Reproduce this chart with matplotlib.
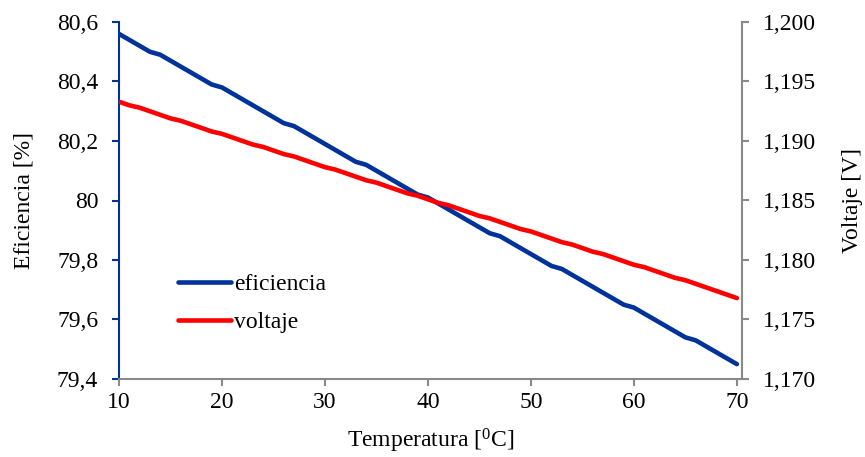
import matplotlib.pyplot as plt
from matplotlib.ticker import FuncFormatter, MultipleLocator

plt.rcParams["font.family"] = ["Liberation Serif", "DejaVu Serif"]
plt.rcParams["mathtext.fontset"] = "custom"
plt.rcParams["mathtext.rm"] = "Liberation Serif"

temperatura = list(range(10, 71))

eficiencia = [
    80.56, 80.54, 80.52, 80.50, 80.49, 80.47, 80.45, 80.43, 80.41, 80.39,
    80.38, 80.36, 80.34, 80.32, 80.30, 80.28, 80.26, 80.25, 80.23, 80.21,
    80.19, 80.17, 80.15, 80.13, 80.12, 80.10, 80.08, 80.06, 80.04, 80.02,
    80.01, 79.99, 79.97, 79.95, 79.93, 79.91, 79.89, 79.88, 79.86, 79.84,
    79.82, 79.80, 79.78, 79.77, 79.75, 79.73, 79.71, 79.69, 79.67, 79.65,
    79.64, 79.62, 79.60, 79.58, 79.56, 79.54, 79.53, 79.51, 79.49, 79.47,
    79.45,
]

voltaje = [
    1.1933, 1.1930, 1.1928, 1.1925, 1.1922, 1.1919, 1.1917, 1.1914, 1.1911, 1.1908,
    1.1906, 1.1903, 1.1900, 1.1897, 1.1895, 1.1892, 1.1889, 1.1887, 1.1884, 1.1881,
    1.1878, 1.1876, 1.1873, 1.1870, 1.1867, 1.1865, 1.1862, 1.1859, 1.1856, 1.1854,
    1.1851, 1.1848, 1.1846, 1.1843, 1.1840, 1.1837, 1.1835, 1.1832, 1.1829, 1.1826,
    1.1824, 1.1821, 1.1818, 1.1815, 1.1813, 1.1810, 1.1807, 1.1805, 1.1802, 1.1799,
    1.1796, 1.1794, 1.1791, 1.1788, 1.1785, 1.1783, 1.1780, 1.1777, 1.1774, 1.1771,
    1.1768,
]

blue = "#003399"
red = "#ff0000"
grey = "#898989"
fs = 17

fig = plt.figure(figsize=(8.65, 4.57), dpi=100)
ax = fig.add_axes([119 / 865, 1 - 379 / 457, 623 / 865, 357 / 457])
ax2 = ax.twinx()

l1, = ax.plot(temperatura, eficiencia, color=blue, lw=3.3, solid_capstyle="round",
              label="eficiencia")
l2, = ax2.plot(temperatura, voltaje, color=red, lw=3.3, solid_capstyle="round",
               label="voltaje")

ax.set_xlim(10, 70.5)
ax.set_ylim(79.4, 80.6)
ax2.set_ylim(1.170, 1.200)
ax.xaxis.set_major_locator(MultipleLocator(10))
ax.yaxis.set_major_locator(MultipleLocator(0.2))
ax2.yaxis.set_major_locator(MultipleLocator(0.005))


def fmt_left(v, pos):
    s = f"{v:.1f}"
    if s.endswith(".0"):
        s = s[:-2]
    return s.replace(".", ",")


ax.yaxis.set_major_formatter(FuncFormatter(fmt_left))
ax2.yaxis.set_major_formatter(FuncFormatter(lambda v, p: f"{v:.3f}".replace(".", ",")))

for a in (ax, ax2):
    a.spines["top"].set_visible(False)
    for s in a.spines.values():
        s.set_linewidth(1.5)
ax.spines["left"].set_color(blue)
ax.spines["bottom"].set_color(grey)
ax.spines["right"].set_visible(False)
ax2.spines["left"].set_visible(False)
ax2.spines["bottom"].set_visible(False)
ax2.spines["right"].set_color(grey)

ax.tick_params(axis="y", direction="out", length=5, width=1.5, color=blue,
               labelsize=fs, pad=10)
ax.tick_params(axis="x", direction="out", length=5, width=1.5, color=grey,
               labelsize=fs, pad=4)
ax2.tick_params(axis="y", direction="out", length=5, width=1.5, color=grey,
                labelsize=fs, pad=10)

ax.set_xlabel("Temperatura [$\\mathregular{^0}$C]", fontsize=fs, labelpad=10)
ax.set_ylabel("Eficiencia [%]", fontsize=fs, labelpad=16)
ax2.set_ylabel("Voltaje [V]", fontsize=fs, labelpad=19)

ax.legend(handles=[l1, l2], loc="upper left", bbox_to_anchor=(0.095, 0.296),
          frameon=False, fontsize=fs, handlelength=2.25, handletextpad=0.12,
          labelspacing=0.7, borderpad=0, borderaxespad=0)

fig.savefig("out.png", dpi=100)
